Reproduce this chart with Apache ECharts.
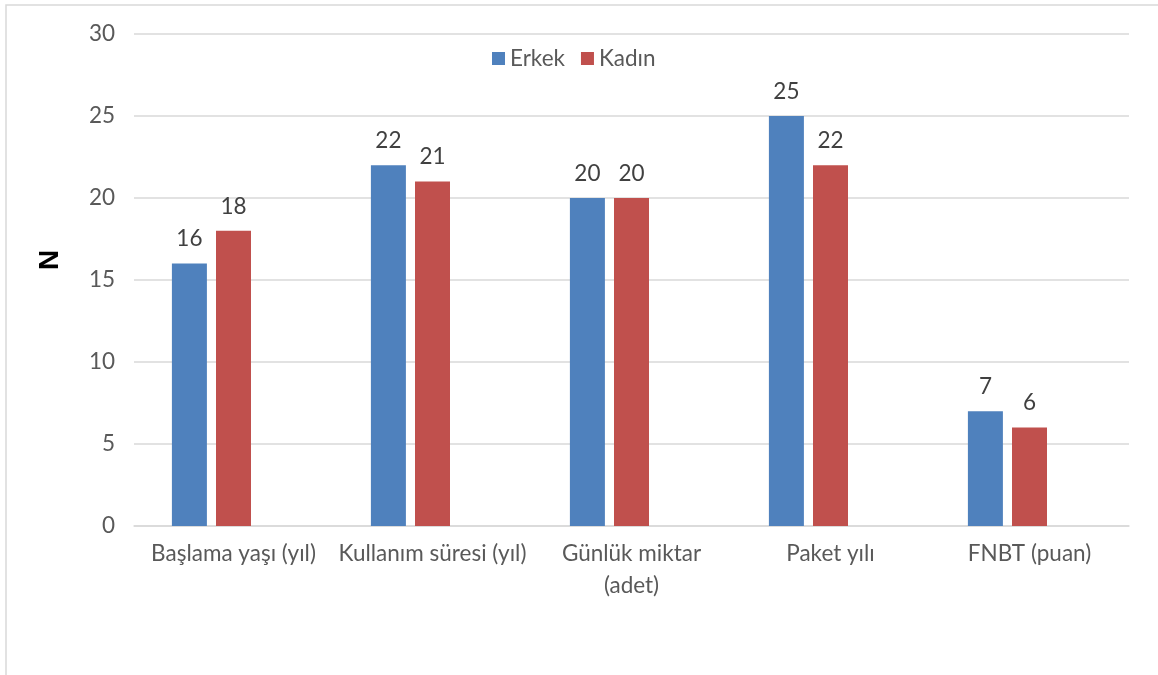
<!DOCTYPE html>
<html>
<head>
<meta charset="utf-8">
<script src="https://cdn.jsdelivr.net/npm/echarts@6/dist/echarts.min.js"></script>
<style>
  html, body { margin: 0; padding: 0; background: #ffffff; }
  #chart { width: 1158px; height: 675px; }
</style>
</head>
<body>
<div id="chart"></div>
<script>
const categories = ['Başlama yaşı (yıl)', 'Kullanım süresi (yıl)', 'Günlük miktar\n(adet)', 'Paket yılı', 'FNBT (puan)'];
const erkek = [16, 22, 20, 25, 7];
const kadin = [18, 21, 20, 22, 6];
const placeholder = [null, null, null, null, null];
const yTicks = { min: 0, max: 30, interval: 5 };

const FONT = 'Lato';
const FS = 22.5;
const chart = echarts.init(document.getElementById('chart'));

const labelCfg = {
  show: true,
  position: 'top',
  distance: 13,
  color: '#404040',
  fontFamily: FONT,
  fontSize: FS
};

chart.setOption({
  backgroundColor: '#ffffff',
  animation: false,
  textStyle: { fontFamily: FONT },
  graphic: [{
    type: 'rect',
    shape: { x: 6, y: 5, width: 1200, height: 720 },
    style: { fill: 'none', stroke: '#d9d9d9', lineWidth: 1.5 },
    silent: true,
    z: -10
  }],
  legend: {
    data: ['Erkek', 'Kadın'],
    left: 487,
    top: 42,
    itemWidth: 13,
    itemHeight: 13,
    itemGap: 16,
    icon: 'rect',
    textStyle: { color: '#595959', fontFamily: FONT, fontSize: FS }
  },
  grid: { left: 134, right: 29, top: 34, bottom: 149, containLabel: false },
  xAxis: {
    type: 'category',
    data: categories,
    axisLine: { show: true, lineStyle: { color: '#d9d9d9', width: 1.5 } },
    axisTick: { show: false },
    axisLabel: {
      interval: 0,
      margin: 12,
      color: '#595959',
      fontFamily: FONT,
      fontSize: FS,
      lineHeight: 32
    }
  },
  yAxis: {
    type: 'value',
    min: yTicks.min,
    max: yTicks.max,
    interval: yTicks.interval,
    name: 'N',
    nameLocation: 'middle',
    nameRotate: 90,
    nameGap: 70,
    nameTextStyle: { color: '#000000', fontFamily: 'Liberation Sans', fontWeight: 'bold', fontSize: 28, padding: [0, 0, 0, 40] },
    axisLine: { show: false },
    axisTick: { show: false },
    splitLine: { lineStyle: { color: '#d9d9d9', width: 1.5 } },
    axisLabel: { margin: 19, color: '#595959', fontFamily: FONT, fontSize: FS }
  },
  series: [
    {
      name: 'Erkek', type: 'bar', data: erkek,
      barWidth: 35, barGap: '26%',
      itemStyle: { color: '#4f81bd' },
      label: labelCfg
    },
    {
      name: 'Kadın', type: 'bar', data: kadin,
      barWidth: 35, barGap: '26%',
      itemStyle: { color: '#c0504d' },
      label: labelCfg
    },
    {
      name: '', type: 'bar', data: placeholder,
      barWidth: 35, barGap: '26%',
      itemStyle: { color: 'transparent' },
      label: { show: false },
      silent: true
    }
  ]
});
</script>
</body>
</html>
